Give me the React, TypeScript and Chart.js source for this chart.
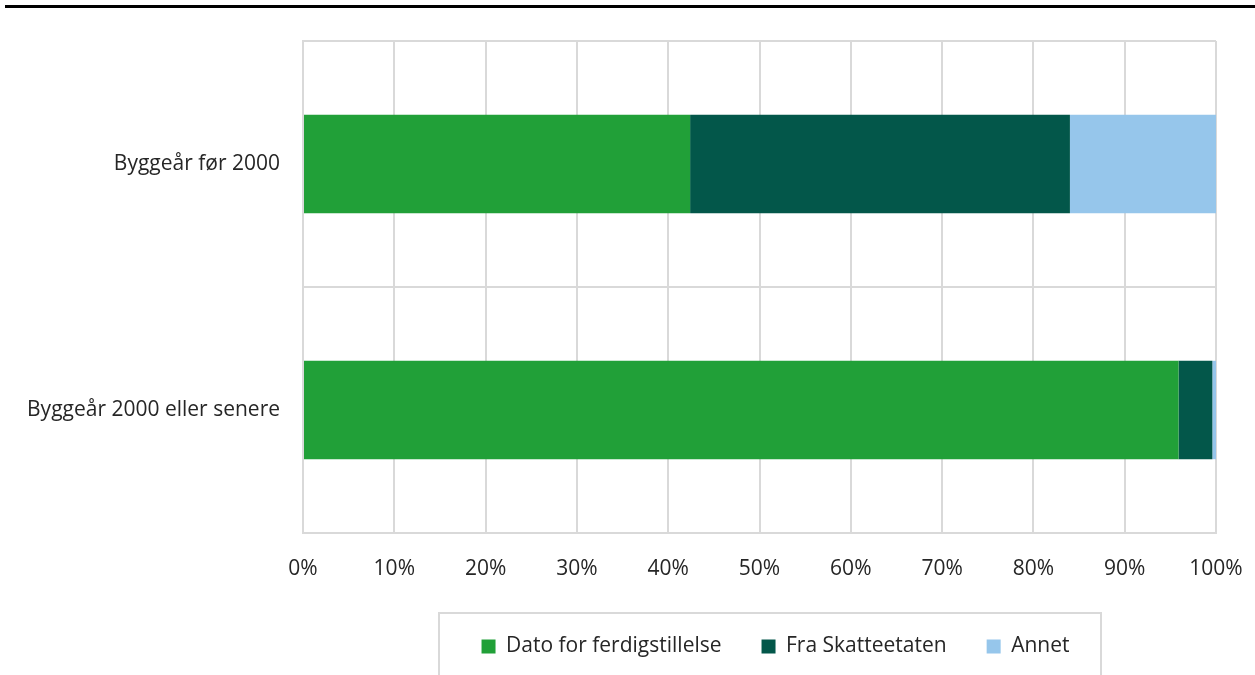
import React, { useEffect, useRef } from "react";
import { Chart, registerables } from "chart.js";

Chart.register(...registerables);

// Categories and series (share of buildings, %)
const categories = ["Byggeår før 2000", "Byggeår 2000 eller senere"];
const seriesNames = ["Dato for ferdigstillelse", "Fra Skatteetaten", "Annet"];
const datoValues = [42.4, 95.9];
const skatteValues = [41.6, 3.7];
const annetValues = [16.0, 0.4];
const seriesColors = ["#21A038", "#03574A", "#96C6EB"];

// X axis ticks: 0% .. 100% in steps of 10
const xMin = 0;
const xMax = 100;
const xStep = 10;

const FONT = { family: "'Open Sans', sans-serif", size: 21 };
const TEXT_COLOR = "#262626";
const GRID_COLOR = "#d9d9d9";

// legend row placement and its surrounding frame
const LEGEND_CENTER = 775.5;
const LEGEND_PADDING = 40;
const LEGEND_TEXT_MIDDLE = 646.5;
const FRAME_LEFT = 439;
const FRAME_WIDTH = 662;
const FRAME_TOP = 613;

const decorations = {
  id: "decorations",
  afterLayout(chart: any) {
    const lg = chart.legend;
    if (lg) {
      const half = 500;
      const h = lg.height;
      lg.left = LEGEND_CENTER - half;
      lg.right = LEGEND_CENTER + half;
      lg.width = half * 2;
      lg.top = LEGEND_TEXT_MIDDLE - LEGEND_PADDING - FONT.size / 2;
      lg.bottom = lg.top + h;
    }
  },
  beforeDraw(chart: any) {
    const ctx = chart.ctx;
    ctx.save();
    ctx.fillStyle = "#000000";
    ctx.fillRect(5, 5, chart.width - 5, 3);
    ctx.restore();
  },
  afterDraw(chart: any) {
    const ctx = chart.ctx;
    ctx.save();
    ctx.strokeStyle = GRID_COLOR;
    ctx.lineWidth = 2;
    ctx.strokeRect(FRAME_LEFT, FRAME_TOP, FRAME_WIDTH, 100);
    ctx.restore();
  },
};

export default function App() {
  const canvasRef = useRef<HTMLCanvasElement | null>(null);

  useEffect(() => {
    if (!canvasRef.current) return;
    const values = [datoValues, skatteValues, annetValues];
    const chart = new Chart(canvasRef.current, {
      type: "bar",
      data: {
        labels: categories,
        datasets: seriesNames.map((name, i) => ({
          label: name,
          data: values[i],
          backgroundColor: seriesColors[i],
          borderWidth: 0,
          barPercentage: 0.4,
          categoryPercentage: 1.0,
        })),
      },
      options: {
        indexAxis: "y",
        responsive: false,
        animation: false,
        devicePixelRatio: 1,
        layout: { padding: { top: 41, right: 39, bottom: 0, left: 0 } },
        scales: {
          x: {
            stacked: true,
            min: xMin,
            max: xMax,
            ticks: {
              stepSize: xStep,
              callback: (v: any) => `${v}%`,
              color: TEXT_COLOR,
              font: FONT,
              padding: 23,
              maxRotation: 0,
            },
            grid: { color: GRID_COLOR, lineWidth: 2, drawTicks: false },
            border: { color: GRID_COLOR, width: 2 },
            afterFit: (s: any) => {
              s.height = 71;
              s.paddingRight = 0;
              s.paddingLeft = 0;
            },
          },
          y: {
            stacked: true,
            ticks: { color: TEXT_COLOR, font: FONT, padding: 23 },
            grid: { color: GRID_COLOR, lineWidth: 2, drawTicks: false, offset: true },
            border: { color: GRID_COLOR, width: 2 },
            afterFit: (s: any) => {
              s.width = 303;
            },
          },
        },
        plugins: {
          legend: {
            position: "bottom",
            labels: {
              boxWidth: 14,
              boxHeight: 14,
              padding: LEGEND_PADDING,
              font: FONT,
              color: TEXT_COLOR,
            },
          },
          tooltip: { enabled: false },
        },
      },
      plugins: [decorations],
    } as any);
    return () => chart.destroy();
  }, []);

  return (
    <div style={{ position: "fixed", left: 0, top: 0, width: 1255, height: 675, background: "#fff" }}>
      <canvas ref={canvasRef} width={1255} height={675} style={{ display: "block" }} />
    </div>
  );
}
